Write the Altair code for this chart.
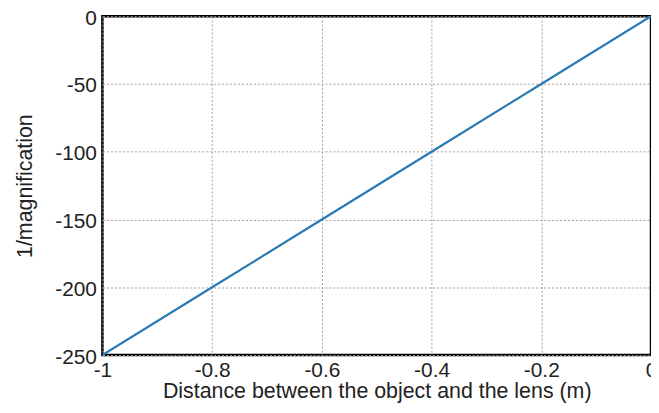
import altair as alt
import pandas as pd

distance = [-1.0, -0.8, -0.6, -0.4, -0.2, 0.0]
inv_mag = [-250, -200, -150, -100, -50, 0]
x_ticks = [-1, -0.8, -0.6, -0.4, -0.2, 0]
y_ticks = [-250, -200, -150, -100, -50, 0]

df = pd.DataFrame({"d": distance, "m": inv_mag})

font = "Liberation Sans"
lab = "'' + datum.value"

chart = alt.Chart(df).mark_line(color="#2a7ab5", strokeWidth=2.2, clip=True).encode(
    x=alt.X("d:Q", scale=alt.Scale(domain=[-1, 0], nice=False),
            axis=alt.Axis(values=x_ticks, title="Distance between the object and the lens (m)",
                          labelExpr=lab,
                          grid=True, gridColor="#a0a0a0", gridDash=[2, 2], gridWidth=1,
                          domain=False, ticks=False, labelPadding=5,
                          labelFontSize=21, titleFontSize=21.5, labelFont=font, titleFont=font,
                          labelColor="#222", titleColor="#222", titleFontWeight="normal",
                          titlePadding=0, labelFlush=False, labelOverlap=False)),
    y=alt.Y("m:Q", scale=alt.Scale(domain=[-250, 0], nice=False),
            axis=alt.Axis(values=y_ticks, title="1/magnification",
                          labelExpr=lab, labelOffset=2,
                          grid=True, gridColor="#a0a0a0", gridDash=[2, 2], gridWidth=1,
                          domain=False, ticks=False, labelPadding=6,
                          labelFontSize=21, titleFontSize=21.5, labelFont=font, titleFont=font,
                          labelColor="#222", titleColor="#222", titleFontWeight="normal",
                          titlePadding=18, labelFlush=False, labelOverlap=False)),
).properties(
    width=552, height=341,
    autosize=alt.AutoSizeParams(type="none"),
    padding={"left": 95, "top": 7, "right": 0, "bottom": 50},
).configure_view(stroke="black", strokeWidth=2.5)

chart.save("out.html", embed_options={"renderer": "svg", "actions": False})
